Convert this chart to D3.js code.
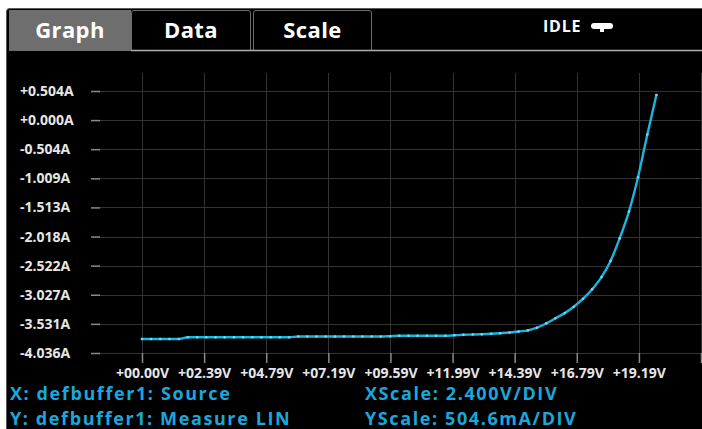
<!DOCTYPE html>
<html><head><meta charset="utf-8">
<script src="https://cdn.jsdelivr.net/npm/d3@7"></script>
<style>
html,body{margin:0;padding:0;background:#fff;}
svg{display:block;}
text{font-family:"Open Sans",sans-serif;font-weight:700;}
</style></head>
<body>
<svg id="c" width="702" height="429"></svg>
<script>
// ---- data ----
const tabs = ["Graph", "Data", "Scale"];
const statusText = "IDLE";
const voltage = [0, 0.35, 0.71, 1.06, 1.42, 1.77, 2.13, 2.48, 2.84, 3.19, 3.55, 3.90, 4.26, 4.61, 4.97, 5.32, 5.68, 6.03, 6.38, 6.74, 7.09, 7.45, 7.80, 8.16, 8.51, 8.87, 9.22, 9.58, 9.93, 10.29, 10.64, 11.00, 11.35, 11.71, 12.06, 12.41, 12.77, 13.12, 13.48, 13.83, 14.19, 14.54, 14.90, 15.25, 15.61, 15.96, 16.32, 16.67, 17.03, 17.38, 17.74, 18.09, 18.44, 18.80, 19.15, 19.51, 19.86];
const current = [-3.793, -3.793, -3.793, -3.793, -3.793, -3.764, -3.764, -3.764, -3.764, -3.764, -3.764, -3.764, -3.764, -3.764, -3.764, -3.764, -3.764, -3.750, -3.750, -3.750, -3.750, -3.750, -3.750, -3.750, -3.750, -3.750, -3.750, -3.745, -3.738, -3.738, -3.738, -3.738, -3.738, -3.738, -3.729, -3.721, -3.715, -3.710, -3.703, -3.693, -3.681, -3.663, -3.644, -3.598, -3.522, -3.435, -3.345, -3.235, -3.095, -2.930, -2.720, -2.440, -2.050, -1.585, -0.990, -0.250, 0.435];
const xTickValues = [0, 2.398, 4.796, 7.194, 9.592, 11.99, 14.388, 16.786, 19.184, 21.582];
const xTickLabels = ["+00.00V", "+02.39V", "+04.79V", "+07.19V", "+09.59V", "+11.99V", "+14.39V", "+16.79V", "+19.19V", ""];
const yTickValues = [0.504, 0.000, -0.504, -1.009, -1.513, -2.018, -2.522, -3.027, -3.531, -4.036];
const yTickLabels = ["+0.504A", "+0.000A", "-0.504A", "-1.009A", "-1.513A", "-2.018A", "-2.522A", "-3.027A", "-3.531A", "-4.036A"];
const infoLeft = ["X: defbuffer1: Source", "Y: defbuffer1: Measure LIN"];
const infoRight = ["XScale: 2.400V/DIV", "YScale: 504.6mA/DIV"];

// ---- drawing ----
const svg = d3.select("#c");
const cyan = "#1aa8dc";
const lineCol = "#19b6de";

// panel
svg.append("rect").attr("x", 6.5).attr("y", 8.5).attr("width", 710).attr("height", 440)
  .attr("rx", 3).attr("fill", "#000").attr("stroke", "#5a5a5a").attr("stroke-width", 1);

// tabs
const tabX = [9, 131, 253];
const tabW = [122, 120, 119];
tabs.forEach((t, i) => {
  const g = svg.append("g");
  if (i === 0) {
    g.append("rect").attr("x", tabX[i]).attr("y", 10).attr("width", tabW[i]).attr("height", 41)
      .attr("fill", "#6e6e6e");
  } else {
    g.append("path")
      .attr("d", `M${tabX[i]+0.5},50.5 V13 Q${tabX[i]+0.5},10.5 ${tabX[i]+3},10.5 H${tabX[i]+tabW[i]-3} Q${tabX[i]+tabW[i]-0.5},10.5 ${tabX[i]+tabW[i]-0.5},13 V50.5`)
      .attr("fill", "#000").attr("stroke", "#6a6a6a").attr("stroke-width", 1);
  }
  g.append("text").attr("x", tabX[i] + tabW[i] / 2).attr("y", 38)
    .attr("text-anchor", "middle").attr("fill", "#fff").attr("font-size", 22)
    .attr("letter-spacing", 0.4).text(t);
});
svg.append("line").attr("x1", 131).attr("x2", 702).attr("y1", 50.5).attr("y2", 50.5)
  .attr("stroke", "#b0b0b0").attr("stroke-width", 1.5);

// status
svg.append("text").attr("x", 543).attr("y", 32).attr("fill", "#fff").attr("font-size", 16)
  .attr("letter-spacing", 0.8).text(statusText);
svg.append("rect").attr("x", 591).attr("y", 23).attr("width", 22).attr("height", 6).attr("rx", 3).attr("fill", "#fff");
svg.append("rect").attr("x", 600).attr("y", 28).attr("width", 4).attr("height", 4).attr("fill", "#fff");

// scales
const x = d3.scaleLinear().domain([0, 21.582]).range([142, 701]);
const y = d3.scaleLinear().domain([-4.036, 0.504]).range([353, 91]);
const plotTop = 73, plotBottom = 353, gridLeft = 100, gridRight = 702;

// horizontal grid
svg.append("g").selectAll("line").data(yTickValues).join("line")
  .attr("x1", gridLeft).attr("x2", gridRight)
  .attr("y1", d => Math.round(y(d)) + 0.5).attr("y2", d => Math.round(y(d)) + 0.5)
  .attr("stroke", "#333").attr("stroke-width", 1);
// vertical grid
svg.append("g").selectAll("line").data(xTickValues).join("line")
  .attr("x1", d => Math.round(x(d)) + 0.5).attr("x2", d => Math.round(x(d)) + 0.5)
  .attr("y1", plotTop).attr("y2", plotBottom)
  .attr("stroke", "#333").attr("stroke-width", 1);

// y axis ticks (dashes) + labels
const yAxis = d3.axisLeft(y).tickValues(yTickValues).tickSize(9)
  .tickFormat((d, i) => yTickLabels[i]);
const ya = svg.append("g").attr("transform", `translate(${gridLeft},0)`).call(yAxis);
ya.select(".domain").remove();
ya.selectAll(".tick line").attr("stroke", "#8a8a8a").attr("stroke-width", 1.5);
ya.selectAll(".tick text").attr("fill", "#e6e6e6").attr("font-size", 14)
  .attr("text-anchor", "start").attr("x", 20 - gridLeft).attr("font-family", "Open Sans").attr("font-weight", 700);

// x axis ticks + labels
const xAxis = d3.axisBottom(x).tickValues(xTickValues).tickSize(10)
  .tickFormat((d, i) => xTickLabels[i]);
const xa = svg.append("g").attr("transform", `translate(0,${plotBottom})`).call(xAxis);
xa.select(".domain").remove();
xa.selectAll(".tick line").attr("stroke", "#8a8a8a").attr("stroke-width", 1.5);
xa.selectAll(".tick text").attr("fill", "#e6e6e6").attr("font-size", 14).attr("y", 15)
  .attr("font-family", "Open Sans").attr("font-weight", 700);

// curve
const pts = voltage.map((v, i) => [v, current[i]]);
svg.append("path").datum(pts)
  .attr("d", d3.line().x(d => x(d[0])).y(d => y(d[1])).curve(d3.curveMonotoneX))
  .attr("fill", "none").attr("stroke", lineCol).attr("stroke-width", 2.4)
  .attr("stroke-linejoin", "round").attr("stroke-linecap", "round");
svg.append("g").selectAll("circle").data(pts).join("circle")
  .attr("cx", d => x(d[0])).attr("cy", d => y(d[1])).attr("r", 1.3)
  .attr("fill", "#72d9f5");

// info text
infoLeft.forEach((t, i) => {
  svg.append("text").attr("x", 10).attr("y", 400 + i * 24.6).attr("fill", cyan)
    .attr("font-size", 18).attr("letter-spacing", 1.6).text(t);
});
infoRight.forEach((t, i) => {
  svg.append("text").attr("x", 365).attr("y", 400 + i * 24.6).attr("fill", cyan)
    .attr("font-size", 18).attr("letter-spacing", 1.6).text(t);
});
</script>
</body></html>
